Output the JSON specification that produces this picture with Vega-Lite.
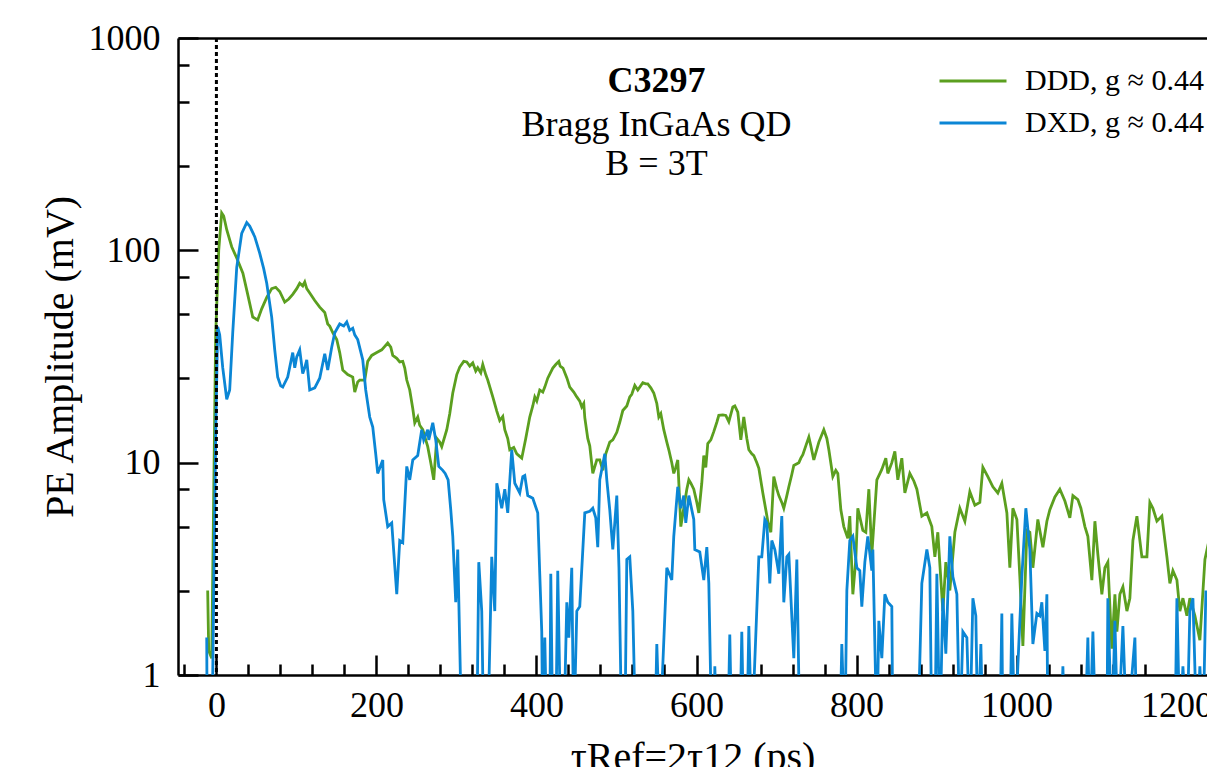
{
  "$schema": "https://vega.github.io/schema/vega-lite/v6.json",
  "width": 1029,
  "height": 637,
  "autosize": {"type": "none"},
  "padding": {"left": 178, "top": 38, "right": 0, "bottom": 92},
  "background": "white",
  "config": {
    "view": {"stroke": null},
    "axis": {
      "labelFont": "Liberation Serif",
      "titleFont": "Liberation Serif",
      "labelColor": "black",
      "titleColor": "black",
      "tickColor": "black",
      "domainColor": "black",
      "domainWidth": 2.5,
      "tickWidth": 2.5,
      "grid": false,
      "labelFontSize": 36,
      "titleFontSize": 40,
      "titleFontWeight": "normal",
      "labelOverlap": false,
      "labelFlush": false
    }
  },
  "resolve": {"axis": {"x": "independent", "y": "independent"}},
  "layer": [
    {
      "data": {"values": [
{"t":-10.9,"a":2.5},{"t":-9.6,"a":1.3},{"t":-5.9,"a":1.2},{"t":-0.9,"a":40},{"t":2.9,"a":100},{"t":6.6,"a":150},{"t":9.1,"a":145},{"t":12.9,"a":125},{"t":19.1,"a":104},{"t":25.4,"a":92},{"t":33.1,"a":78},{"t":39.1,"a":62},{"t":45.4,"a":48.5},{"t":51.6,"a":47},{"t":56.6,"a":53},{"t":62.9,"a":60},{"t":69.1,"a":66},{"t":74.1,"a":67},{"t":79.1,"a":64},{"t":85.4,"a":57},{"t":90.4,"a":59},{"t":95.4,"a":62},{"t":100.4,"a":66},{"t":104.1,"a":70},{"t":107.9,"a":68},{"t":110.4,"a":71},{"t":112.9,"a":66},{"t":117.9,"a":62},{"t":122.9,"a":58},{"t":129.1,"a":54},{"t":135.4,"a":51},{"t":139.1,"a":45},{"t":141.6,"a":44},{"t":145.4,"a":41},{"t":150.4,"a":38},{"t":154.1,"a":33},{"t":157.9,"a":27.3},{"t":164.1,"a":26},{"t":170.4,"a":25.3},{"t":172.9,"a":21.5},{"t":176.6,"a":24},{"t":179.1,"a":24.5},{"t":185.4,"a":24.5},{"t":189.1,"a":30},{"t":194.1,"a":32},{"t":200.4,"a":33},{"t":206.6,"a":34},{"t":214.1,"a":36.6},{"t":217.9,"a":35},{"t":220.4,"a":32},{"t":225.4,"a":31},{"t":229.1,"a":29.8},{"t":232.9,"a":30},{"t":235.4,"a":27.9},{"t":237.9,"a":24.5},{"t":241.6,"a":22},{"t":245.4,"a":18},{"t":247.9,"a":15.4},{"t":251.6,"a":16.4},{"t":254.1,"a":15},{"t":257.9,"a":14.3},{"t":264.1,"a":11.9},{"t":267.9,"a":10},{"t":271.6,"a":8.3},{"t":275.4,"a":13},{"t":279.1,"a":12.5},{"t":281.6,"a":11.9},{"t":287.9,"a":14.3},{"t":291.6,"a":17},{"t":295.4,"a":21.3},{"t":300.4,"a":26},{"t":304.1,"a":28.2},{"t":309.1,"a":30},{"t":312.9,"a":29.8},{"t":316.6,"a":28.5},{"t":320.4,"a":29.5},{"t":324.1,"a":27},{"t":326.6,"a":28},{"t":330.4,"a":26.5},{"t":332.9,"a":29},{"t":336.6,"a":26},{"t":339.1,"a":24.5},{"t":345.4,"a":20.4},{"t":350.4,"a":17.5},{"t":354.1,"a":15.8},{"t":357.9,"a":16.5},{"t":360.4,"a":14.3},{"t":364.1,"a":13},{"t":366.6,"a":11.5},{"t":371.6,"a":11.8},{"t":375.4,"a":11},{"t":379.1,"a":10.7},{"t":381.6,"a":10.5},{"t":386.6,"a":13},{"t":391.6,"a":16.4},{"t":395.4,"a":18.5},{"t":397.9,"a":20.4},{"t":400.4,"a":19.5},{"t":404.1,"a":22},{"t":407.9,"a":21.5},{"t":410.4,"a":22.7},{"t":414.1,"a":25},{"t":420.4,"a":27.9},{"t":424.1,"a":29},{"t":427.9,"a":30},{"t":429.6,"a":28.5},{"t":433.1,"a":27.9},{"t":438.1,"a":25},{"t":441.6,"a":22.7},{"t":446.6,"a":21.5},{"t":450.4,"a":20.4},{"t":454.1,"a":19.5},{"t":456.6,"a":18.3},{"t":459.1,"a":19},{"t":460.4,"a":16.3},{"t":464.1,"a":13},{"t":466.6,"a":12},{"t":470.4,"a":8.9},{"t":475.4,"a":10.3},{"t":479.1,"a":10.3},{"t":482.9,"a":9.2},{"t":486.6,"a":11},{"t":491.6,"a":12.5},{"t":495.4,"a":12.8},{"t":500.4,"a":13.9},{"t":504.1,"a":15.5},{"t":507.9,"a":17.6},{"t":512.9,"a":18.5},{"t":516.6,"a":20.4},{"t":519.1,"a":21},{"t":522.9,"a":23.1},{"t":526.6,"a":22},{"t":532.9,"a":23.8},{"t":536.6,"a":23.5},{"t":539.1,"a":23.5},{"t":542.9,"a":22.5},{"t":546.6,"a":21.3},{"t":550.4,"a":19},{"t":552.9,"a":16.4},{"t":555.4,"a":17},{"t":559.1,"a":14.3},{"t":562.9,"a":12.5},{"t":565.4,"a":11.5},{"t":569.1,"a":10},{"t":571.6,"a":8.9},{"t":574.1,"a":9.5},{"t":576.6,"a":10.3},{"t":580.4,"a":5.0},{"t":584.1,"a":6.1},{"t":587.9,"a":7.5},{"t":590.4,"a":8.3},{"t":592.9,"a":8},{"t":596.6,"a":7.5},{"t":600.4,"a":6.5},{"t":602.9,"a":5.8},{"t":606.6,"a":8},{"t":609.1,"a":10.8},{"t":611.6,"a":9.5},{"t":614.1,"a":12.3},{"t":617.9,"a":12.8},{"t":621.6,"a":14},{"t":625.4,"a":15.5},{"t":627.9,"a":16.7},{"t":632.9,"a":16.8},{"t":636.6,"a":16.7},{"t":640.4,"a":15.6},{"t":645.4,"a":18.3},{"t":647.9,"a":18.5},{"t":651.6,"a":17.3},{"t":655.4,"a":12.8},{"t":659.1,"a":16.4},{"t":662.9,"a":13},{"t":665.4,"a":11.5},{"t":669.1,"a":11},{"t":671.6,"a":10.8},{"t":675.4,"a":10},{"t":677.9,"a":9.4},{"t":682.9,"a":7.2},{"t":686.6,"a":6},{"t":689.1,"a":5.3},{"t":692.9,"a":4.7},{"t":696.6,"a":8.6},{"t":700.4,"a":7.5},{"t":702.9,"a":7},{"t":706.6,"a":6.5},{"t":709.1,"a":6.1},{"t":712.9,"a":7},{"t":715.4,"a":7.7},{"t":719.1,"a":8.8},{"t":721.6,"a":9.7},{"t":727.9,"a":10},{"t":730.4,"a":10.5},{"t":732.9,"a":10.9},{"t":736.6,"a":12},{"t":740.4,"a":13.2},{"t":742.9,"a":12},{"t":746.6,"a":10.3},{"t":752.9,"a":12.5},{"t":759.1,"a":14.3},{"t":762.9,"a":13},{"t":765.4,"a":11.5},{"t":770.4,"a":8.6},{"t":774.1,"a":9.2},{"t":776.6,"a":8.9},{"t":780.4,"a":6},{"t":784.1,"a":5},{"t":789.1,"a":4.4},{"t":791.6,"a":5.6},{"t":795.4,"a":2.4},{"t":799.1,"a":3.5},{"t":801.6,"a":6.1},{"t":807.9,"a":4.8},{"t":811.6,"a":4.7},{"t":815.4,"a":7.5},{"t":819.1,"a":3.7},{"t":825.4,"a":8.3},{"t":831.6,"a":9.3},{"t":836.6,"a":10.5},{"t":839.1,"a":8.9},{"t":844.1,"a":10},{"t":847.9,"a":11.3},{"t":851.6,"a":8.3},{"t":856.6,"a":10.5},{"t":860.4,"a":7.2},{"t":866.6,"a":8.9},{"t":871.6,"a":8.2},{"t":875.4,"a":7.5},{"t":881.6,"a":5.6},{"t":887.9,"a":5.8},{"t":894.1,"a":5},{"t":897.9,"a":3.6},{"t":901.6,"a":4.7},{"t":907.9,"a":2},{"t":911.6,"a":3.4},{"t":916.6,"a":2.5},{"t":922.9,"a":4.7},{"t":929.1,"a":6.1},{"t":935.4,"a":5.3},{"t":941.6,"a":7.3},{"t":947.9,"a":6.3},{"t":954.1,"a":6.5},{"t":957.9,"a":9.5},{"t":964.1,"a":8.6},{"t":970.4,"a":7.7},{"t":976.6,"a":7.2},{"t":981.6,"a":8},{"t":987.9,"a":5.8},{"t":991.6,"a":3.2},{"t":995.4,"a":6.1},{"t":1000.4,"a":5.4},{"t":1004.1,"a":2.9},{"t":1007.9,"a":1.37},{"t":1012.9,"a":4.8},{"t":1016.6,"a":4.7},{"t":1020.4,"a":3.2},{"t":1026.6,"a":5.4},{"t":1032.9,"a":4},{"t":1037.9,"a":5.3},{"t":1041.6,"a":6},{"t":1047.9,"a":6.9},{"t":1054.1,"a":7.5},{"t":1060.4,"a":6.6},{"t":1066.6,"a":5.5},{"t":1070.4,"a":7},{"t":1076.6,"a":6.7},{"t":1080.4,"a":6.1},{"t":1085.4,"a":5},{"t":1089.1,"a":4.5},{"t":1094.1,"a":2.8},{"t":1097.9,"a":5.3},{"t":1101.6,"a":3.7},{"t":1106.6,"a":2.4},{"t":1110.4,"a":3.2},{"t":1114.1,"a":3.4},{"t":1119.1,"a":1.33},{"t":1122.9,"a":2.4},{"t":1125.4,"a":1.6},{"t":1129.1,"a":2.4},{"t":1132.9,"a":2.6},{"t":1137.9,"a":2},{"t":1141.6,"a":2.3},{"t":1145.4,"a":4.3},{"t":1150.4,"a":5.6},{"t":1156.6,"a":3.6},{"t":1162.9,"a":3.6},{"t":1166.6,"a":6.5},{"t":1170.4,"a":6.1},{"t":1175.4,"a":5.3},{"t":1181.6,"a":5.6},{"t":1187.9,"a":3.6},{"t":1191.6,"a":2.7},{"t":1195.4,"a":3.1},{"t":1200.4,"a":2.8},{"t":1204.1,"a":2},{"t":1207.9,"a":2.3},{"t":1212.9,"a":1.9},{"t":1216.6,"a":2.3},{"t":1222.9,"a":1.9},{"t":1229.1,"a":1.46},{"t":1235.4,"a":3.5},{"t":1241.6,"a":4.5}
      ]},
      "mark": {"type": "line", "clip": true, "strokeWidth": 2.8},
      "encoding": {
        "x": {"field": "t", "type": "quantitative", "scale": {"domain": [-48, 1238], "nice": false, "zero": false},
          "axis": {"orient": "bottom", "values": [0, 200, 400, 600, 800, 1000, 1200], "format": "d", "tickSize": -20, "labelPadding": 33, "title": "τRef=2τ12 (ps)", "titlePadding": 14}},
        "y": {"field": "a", "type": "quantitative", "scale": {"type": "log", "domain": [1, 1000], "nice": false},
          "axis": {"orient": "left", "values": [1, 10, 100, 1000], "format": "d", "tickSize": -20, "labelPadding": 38, "title": "PE Amplitude (mV)", "titlePadding": 8}},
        "color": {"datum": "DDD, g ≈ 0.44", "type": "nominal",
          "scale": {"domain": ["DDD, g ≈ 0.44", "DXD, g ≈ 0.44"], "range": ["#5b9f1f", "#0b86d5"]},
          "legend": {"orient": "none", "legendX": 760, "legendY": 22, "title": null, "symbolType": "stroke", "symbolSize": 4489, "symbolStrokeWidth": 2.8, "labelFont": "Liberation Serif", "labelFontSize": 30, "labelColor": "black", "labelOffset": 17, "labelLimit": 400, "padding": 0, "rowPadding": 0, "clipHeight": 42}}
      }
    },
    {
      "data": {"values": [
{"t":-12.1,"a":1.5},{"t":-11.5,"a":0.5},{"t":-7.1,"a":0.5},{"t":-4.6,"a":1.0},{"t":-0.9,"a":13.6},{"t":1.6,"a":43.6},{"t":4.1,"a":40},{"t":7.9,"a":28},{"t":12.9,"a":19.9},{"t":16.6,"a":22},{"t":20.4,"a":40.9},{"t":25.4,"a":83},{"t":31.6,"a":120},{"t":37.9,"a":135},{"t":41.6,"a":130},{"t":47.9,"a":116},{"t":54.1,"a":97},{"t":59.1,"a":82},{"t":62.9,"a":70},{"t":69.1,"a":48.5},{"t":72.9,"a":34},{"t":76.6,"a":25.3},{"t":80.4,"a":23},{"t":82.9,"a":22.7},{"t":89.1,"a":25.3},{"t":95.4,"a":33},{"t":97.9,"a":28},{"t":100.4,"a":31.5},{"t":104.1,"a":34},{"t":107.9,"a":26.3},{"t":110.4,"a":28},{"t":112.9,"a":30.5},{"t":116.6,"a":22},{"t":122.9,"a":22.5},{"t":129.1,"a":25},{"t":135.4,"a":32.6},{"t":139.1,"a":27.3},{"t":144.1,"a":35},{"t":147.9,"a":40.9},{"t":154.1,"a":45},{"t":159.1,"a":44},{"t":162.9,"a":46},{"t":166.6,"a":42},{"t":170.4,"a":43},{"t":172.9,"a":40},{"t":176.6,"a":38},{"t":182.9,"a":30.5},{"t":186.6,"a":22},{"t":191.6,"a":16.4},{"t":195.4,"a":14.7},{"t":199.1,"a":11},{"t":201.6,"a":8.9},{"t":207.9,"a":10.3},{"t":209.1,"a":6.7},{"t":214.1,"a":5},{"t":219.1,"a":5.2},{"t":225.4,"a":2.4},{"t":229.1,"a":4.3},{"t":232.9,"a":4.2},{"t":237.9,"a":9.6},{"t":241.6,"a":8.3},{"t":245.4,"a":10.3},{"t":251.6,"a":10.8},{"t":256.6,"a":14.3},{"t":259.1,"a":12.8},{"t":264.1,"a":14.3},{"t":265.4,"a":12.8},{"t":270.4,"a":15.4},{"t":274.1,"a":12.8},{"t":277.9,"a":9.6},{"t":282.9,"a":9.2},{"t":285.9,"a":8.9},{"t":289.6,"a":8.3},{"t":292.9,"a":6},{"t":295.4,"a":4.5},{"t":299.1,"a":2.2},{"t":301.6,"a":3.9},{"t":306.6,"a":0.5},{"t":325.4,"a":0.5},{"t":327.9,"a":3.4},{"t":331.6,"a":2},{"t":334.1,"a":0.5},{"t":339.1,"a":0.5},{"t":344.1,"a":3.6},{"t":347.9,"a":2},{"t":350.4,"a":8},{"t":356.6,"a":6.1},{"t":360.4,"a":7.5},{"t":364.1,"a":5.8},{"t":369.1,"a":11.5},{"t":372.9,"a":8},{"t":379.1,"a":7.2},{"t":382.9,"a":8.6},{"t":385.4,"a":8.7},{"t":389.1,"a":7},{"t":395.4,"a":6.8},{"t":401.6,"a":5.8},{"t":404.1,"a":3},{"t":406.6,"a":1.6},{"t":407.9,"a":0.5},{"t":410.4,"a":1.5},{"t":412.9,"a":0.5},{"t":416.6,"a":0.5},{"t":417.9,"a":3},{"t":420.4,"a":0.5},{"t":424.1,"a":0.5},{"t":426.6,"a":3.1},{"t":430.4,"a":0.5},{"t":434.1,"a":0.5},{"t":437.9,"a":2.2},{"t":440.4,"a":1.5},{"t":444.1,"a":3.2},{"t":446.6,"a":0.5},{"t":450.4,"a":2},{"t":454.1,"a":2.1},{"t":460.4,"a":5.8},{"t":466.6,"a":5.9},{"t":470.4,"a":6.1},{"t":474.1,"a":5.5},{"t":476.6,"a":4},{"t":479.1,"a":8.3},{"t":485.4,"a":11},{"t":487.9,"a":8.3},{"t":491.6,"a":6},{"t":495.4,"a":3.9},{"t":500.4,"a":7},{"t":503.1,"a":3.2},{"t":506.6,"a":0.5},{"t":510.4,"a":0.5},{"t":512.9,"a":3.5},{"t":516.6,"a":3.6},{"t":520.4,"a":2},{"t":524.1,"a":0.5},{"t":547.9,"a":0.5},{"t":550.4,"a":1.4},{"t":554.1,"a":0.5},{"t":562.9,"a":3.2},{"t":569.1,"a":2.8},{"t":571.6,"a":4.5},{"t":576.6,"a":7.7},{"t":580.4,"a":6.1},{"t":584.1,"a":7},{"t":586.6,"a":5.2},{"t":590.4,"a":7},{"t":596.6,"a":5.4},{"t":597.9,"a":3.9},{"t":604.1,"a":3.8},{"t":609.1,"a":2.8},{"t":612.9,"a":4},{"t":615.4,"a":2.7},{"t":619.1,"a":0.5},{"t":621.6,"a":0.5},{"t":622.9,"a":1.1},{"t":625.4,"a":0.5},{"t":639.1,"a":0.5},{"t":641.6,"a":1.55},{"t":644.1,"a":0.5},{"t":654.1,"a":0.5},{"t":656.6,"a":1.6},{"t":659.1,"a":0.5},{"t":662.9,"a":0.5},{"t":665.4,"a":1.7},{"t":669.1,"a":0.5},{"t":677.9,"a":3.6},{"t":681.6,"a":3.6},{"t":685.4,"a":5.4},{"t":687.9,"a":5.2},{"t":691.6,"a":2.7},{"t":694.1,"a":4.3},{"t":697.9,"a":3.9},{"t":702.9,"a":3},{"t":706.6,"a":5.6},{"t":709.1,"a":2.2},{"t":712.9,"a":3.6},{"t":715.4,"a":3.7},{"t":721.6,"a":1.2},{"t":725.4,"a":3.5},{"t":729.1,"a":0.5},{"t":779.1,"a":0.5},{"t":781.6,"a":1.4},{"t":785.4,"a":0.5},{"t":787.9,"a":2.5},{"t":791.6,"a":4.3},{"t":795.4,"a":4.5},{"t":800.4,"a":3.2},{"t":804.1,"a":3.1},{"t":806.6,"a":2.1},{"t":810.4,"a":3.4},{"t":814.1,"a":4.5},{"t":819.1,"a":3.1},{"t":820.4,"a":3.9},{"t":825.4,"a":0.5},{"t":827.9,"a":1.8},{"t":831.6,"a":1.2},{"t":835.4,"a":2.4},{"t":839.1,"a":2.2},{"t":844.1,"a":2.1},{"t":845.4,"a":0.5},{"t":876.6,"a":0.5},{"t":881.6,"a":2.7},{"t":887.9,"a":3.9},{"t":891.6,"a":3.2},{"t":894.1,"a":0.5},{"t":897.9,"a":0.5},{"t":900.4,"a":3},{"t":904.1,"a":0.5},{"t":907.9,"a":2.3},{"t":911.6,"a":1.26},{"t":916.6,"a":4.5},{"t":920.4,"a":2.9},{"t":925.4,"a":2.4},{"t":929.1,"a":0.5},{"t":932.9,"a":1.6},{"t":937.9,"a":1.5},{"t":941.6,"a":0.5},{"t":945.4,"a":2.3},{"t":949.1,"a":1.9},{"t":951.6,"a":0.5},{"t":955.4,"a":1.4},{"t":957.9,"a":0.5},{"t":979.1,"a":0.5},{"t":981.6,"a":1.95},{"t":982.9,"a":0.5},{"t":991.6,"a":0.5},{"t":994.1,"a":1.95},{"t":997.9,"a":0.5},{"t":1001.6,"a":1.1},{"t":1006.6,"a":2.9},{"t":1011.6,"a":6.1},{"t":1016.6,"a":3.9},{"t":1020.4,"a":1.4},{"t":1025.4,"a":1.95},{"t":1029.1,"a":1.9},{"t":1031.6,"a":2.2},{"t":1035.4,"a":1.3},{"t":1037.9,"a":2.4},{"t":1039.1,"a":0.5},{"t":1055.4,"a":0.5},{"t":1057.9,"a":1.1},{"t":1060.4,"a":0.5},{"t":1085.4,"a":0.5},{"t":1089.1,"a":1.5},{"t":1091.6,"a":0.5},{"t":1095.4,"a":1.6},{"t":1099.1,"a":0.5},{"t":1112.9,"a":0.5},{"t":1114.1,"a":2.3},{"t":1119.1,"a":0.5},{"t":1122.9,"a":1.8},{"t":1126.6,"a":0.5},{"t":1132.9,"a":1.7},{"t":1137.9,"a":0.5},{"t":1147.9,"a":1.5},{"t":1150.4,"a":0.5},{"t":1197.9,"a":0.5},{"t":1200.4,"a":2.3},{"t":1204.1,"a":0.5},{"t":1207.9,"a":1.1},{"t":1212.9,"a":0.5},{"t":1216.6,"a":2},{"t":1220.4,"a":2.3},{"t":1225.4,"a":0.5},{"t":1229.1,"a":1.1},{"t":1232.9,"a":0.5},{"t":1236.6,"a":2.5}
      ]},
      "mark": {"type": "line", "clip": true, "strokeWidth": 2.8},
      "encoding": {
        "x": {"field": "t", "type": "quantitative",
          "axis": {"orient": "bottom", "values": [-40, 40, 80, 120, 160, 240, 280, 320, 360, 440, 480, 520, 560, 640, 680, 720, 760, 840, 880, 920, 960, 1040, 1080, 1120, 1160, 1240], "tickSize": -11, "labels": false, "domain": false, "title": null}},
        "y": {"field": "a", "type": "quantitative",
          "axis": {"orient": "left", "values": [2.5, 5, 7.5, 25, 50, 75, 250, 500, 750], "tickSize": -11, "labels": false, "domain": false, "title": null}},
        "color": {"datum": "DXD, g ≈ 0.44", "type": "nominal"}
      }
    },
    {
      "data": {"values": [{"t": 0}]},
      "mark": {"type": "rule", "color": "black", "strokeWidth": 3, "strokeDash": [4, 3]},
      "encoding": {
        "x": {"field": "t", "type": "quantitative",
          "axis": {"orient": "top", "ticks": false, "labels": false, "domain": true, "title": null}}
      }
    },
    {
      "data": {"values": [{"t": 550, "a": 557, "l": "C3297"}]},
      "mark": {"type": "text", "font": "Liberation Serif", "fontSize": 36, "fontWeight": "bold", "color": "black", "align": "center", "baseline": "alphabetic"},
      "encoding": {
        "x": {"field": "t", "type": "quantitative", "axis": null},
        "y": {"field": "a", "type": "quantitative", "axis": null},
        "text": {"field": "l"}
      }
    },
    {
      "data": {"values": [{"t": 550, "a": 345, "l": "Bragg InGaAs QD"}, {"t": 550, "a": 226, "l": "B = 3T"}]},
      "mark": {"type": "text", "font": "Liberation Serif", "fontSize": 36, "color": "black", "align": "center", "baseline": "alphabetic"},
      "encoding": {
        "x": {"field": "t", "type": "quantitative", "axis": null},
        "y": {"field": "a", "type": "quantitative", "axis": null},
        "text": {"field": "l"}
      }
    }
  ]
}
